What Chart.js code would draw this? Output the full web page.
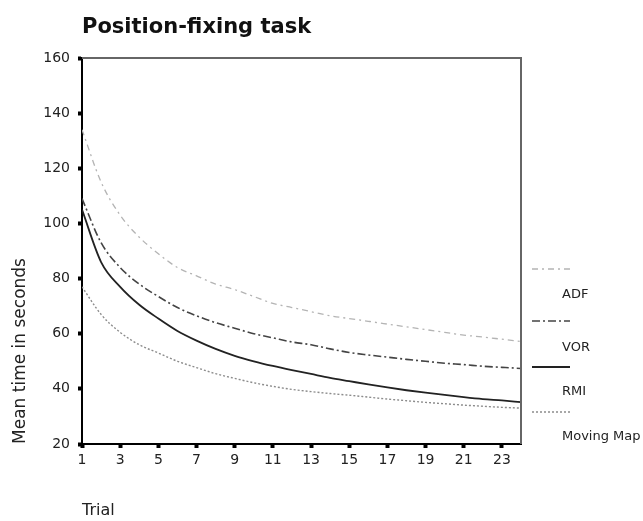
<!DOCTYPE html>
<html>
<head>
<meta charset="utf-8">
<script src="https://cdn.jsdelivr.net/npm/chart.js@4"></script>
<style>
  html, body { margin: 0; padding: 0; background: #fff; }
</style>
</head>
<body>
<canvas id="posChart" width="643" height="521"></canvas>
<script>
// Dados
const trials = [1,2,3,4,5,6,7,8,9,10,11,12,13,14,15,16,17,18,19,20,21,22,23,24];
const adf = [134,115,103,95,89,84,81,78,76,73.5,71,69.5,68,66.5,65.5,64.5,63.5,62.5,61.5,60.5,59.5,58.8,58,57.2];
const vor = [109,93,84,78,73.5,69.5,66.5,64,62,60,58.5,57,56,54.5,53.2,52.3,51.5,50.7,50,49.3,48.8,48.2,47.8,47.4];
const rmi = [105,86,77,70.5,65.5,61,57.5,54.5,52,50,48.3,46.8,45.4,44,42.8,41.6,40.5,39.5,38.6,37.8,37,36.3,35.8,35.2];
const movingMap = [77,67,60.5,56,53,50,47.7,45.5,43.8,42.2,40.9,39.8,39,38.3,37.7,37,36.3,35.7,35.1,34.6,34.1,33.7,33.3,33];
const xTicks = [1,3,5,7,9,11,13,15,17,19,21,23];
const yTicks = [20,40,60,80,100,120,140,160];
const seriesNames = ['ADF', 'VOR', 'RMI', 'Moving Map'];

const FONT = '"DejaVu Sans", sans-serif';

function pts(arr) {
    return arr.map((v, i) => ({ x: trials[i], y: v }));
}

// Plugin: título, moldura, títulos dos eixos e legenda à direita
const extras = {
    id: 'extras',
    afterDraw(chart) {
        const c = chart.ctx;
        const a = chart.chartArea;
        c.save();
        // moldura superior e direita
        c.strokeStyle = '#666';
        c.lineWidth = 2;
        c.beginPath();
        c.moveTo(a.left, a.top);
        c.lineTo(a.right, a.top);
        c.lineTo(a.right, a.bottom);
        c.stroke();

        // título
        c.fillStyle = '#111';
        c.font = 'bold 21px ' + FONT;
        c.textAlign = 'left';
        c.textBaseline = 'alphabetic';
        c.fillText('Position-fixing task', 82, 33);

        // título eixo X
        c.font = '16px ' + FONT;
        c.fillStyle = '#222';
        c.fillText('Trial', 82, 515);

        // título eixo Y
        c.save();
        c.translate(25, 351);
        c.rotate(-Math.PI / 2);
        c.textAlign = 'center';
        c.font = '17px ' + FONT;
        c.fillText('Mean time in seconds', 0, 0);
        c.restore();

        // legenda
        const lineY = [269, 321, 367, 412];
        const textY = [295, 348, 392, 437];
        chart.data.datasets.forEach((ds, i) => {
            c.save();
            c.strokeStyle = ds.borderColor;
            c.lineWidth = ds.borderWidth;
            c.setLineDash(ds.borderDash || []);
            c.beginPath();
            c.moveTo(532, lineY[i]);
            c.lineTo(570, lineY[i]);
            c.stroke();
            c.restore();
            c.fillStyle = '#222';
            c.font = '13px ' + FONT;
            c.textAlign = 'left';
            c.textBaseline = 'middle';
            c.fillText(seriesNames[i], 562, textY[i]);
        });
        c.restore();
    }
};

const ctx = document.getElementById('posChart').getContext('2d');

const chart = new Chart(ctx, {
    type: 'line',
    data: {
        datasets: [
            { label: seriesNames[0], data: pts(adf), borderColor: '#b4b4b4', borderWidth: 1.3, borderDash: [6, 4, 2, 4] },
            { label: seriesNames[1], data: pts(vor), borderColor: '#444444', borderWidth: 1.6, borderDash: [8, 3, 2, 3] },
            { label: seriesNames[2], data: pts(rmi), borderColor: '#222222', borderWidth: 1.8 },
            { label: seriesNames[3], data: pts(movingMap), borderColor: '#8c8c8c', borderWidth: 1.4, borderDash: [2, 2] }
        ]
    },
    options: {
        responsive: false,
        animation: false,
        devicePixelRatio: 1,
        layout: { padding: { top: 58, right: 122, bottom: 0, left: 0 } },
        elements: {
            point: { radius: 0 },
            line: { cubicInterpolationMode: 'monotone', fill: false }
        },
        plugins: {
            legend: { display: false },
            tooltip: { enabled: false }
        },
        scales: {
            x: {
                type: 'linear',
                min: 1,
                max: 24,
                afterBuildTicks: s => { s.ticks = xTicks.map(v => ({ value: v })); },
                afterFit: s => { s.height = 77; },
                border: { display: true, color: '#000', width: 2 },
                grid: { drawOnChartArea: false, drawTicks: true, tickLength: 4, tickWidth: 4, color: '#000' },
                ticks: { color: '#222', font: { family: FONT, size: 14 }, padding: 4, maxRotation: 0, autoSkip: false }
            },
            y: {
                min: 20,
                max: 160,
                afterBuildTicks: s => { s.ticks = yTicks.map(v => ({ value: v })); },
                afterFit: s => { s.width = 82; },
                border: { display: true, color: '#000', width: 2 },
                grid: { drawOnChartArea: false, drawTicks: true, tickLength: 4, tickWidth: 4, color: '#000' },
                ticks: { color: '#222', font: { family: FONT, size: 14 }, padding: 8 }
            }
        }
    },
    plugins: [extras]
});
</script>
</body>
</html>
